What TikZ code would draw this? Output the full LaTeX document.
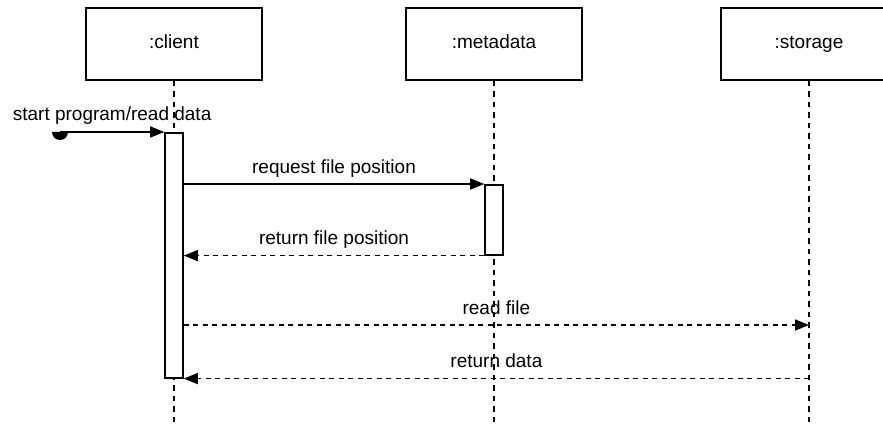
\documentclass[tikz,border=0pt]{standalone}
\usepackage{fontspec}
\setmainfont{Liberation Sans}
\usepackage{tikz}
\usetikzlibrary{arrows.meta, positioning, calc}
\definecolor{colLine}{RGB}{0,0,0}
\definecolor{colBox}{RGB}{255,255,255}
\tikzset{
  lifebox/.style={
    draw=colLine, rectangle, fill=colBox, line width=1.8pt,
    minimum width=176pt, minimum height=72pt,
    font=\fontsize{19}{23}\selectfont, inner sep=0pt,
    text height=13.5pt, text depth=3.5pt
  },
  actbar/.style={
    draw=colLine, rectangle, fill=colBox, line width=1.6pt,
    minimum width=18pt, inner sep=0pt, anchor=north
  },
  lifeline/.style={
    draw=colLine, line width=1.6pt, dash pattern=on 5.5pt off 5pt
  },
  msgarr/.style={
    draw=colLine, line width=1.6pt, -{Triangle[length=14pt, width=11pt]}
  },
  replyarr/.style={
    msgarr, dash pattern=on 5pt off 4.5pt
  },
  msglabel/.style={
    font=\fontsize{19}{23}\selectfont, anchor=base, yshift=11pt, midway, inner sep=0pt
  },
}

\begin{document}
\begin{tikzpicture}[x=1pt, y=-1pt]
\useasboundingbox (0,0) rectangle (883,425);

% ── Lifelines ──────────────────────────────────────────────────────────────
\node[lifebox] (client) at (174,44) {:client};
\node[lifebox] (meta)   at (494,44) {:metadata};
\node[lifebox] (store)  at (809,44) {:storage};

\coordinate (clientEnd) at (174,422);
\coordinate (metaEnd)   at (494,422);
\coordinate (storeEnd)  at (809,422);

\draw[lifeline] (client.south) -- (clientEnd);
\draw[lifeline] (meta.south)   -- (metaEnd);
\draw[lifeline] (store.south)  -- (storeEnd);

% ── Activation bars ────────────────────────────────────────────────────────
\node[actbar, minimum height=245pt] (clientAct) at (174,132) {};
\node[actbar, minimum height=70pt]  (metaAct)   at (494,184) {};

% ── Messages ───────────────────────────────────────────────────────────────
% found message into client
\coordinate (startPt) at (60,132);
\fill[colLine] (startPt) ++(-8,0) arc[start angle=180, end angle=0, radius=8] -- cycle;
\draw[msgarr] (startPt) -- node[msglabel]{start program/read data} (clientAct.north west);

% client → metadata
\draw[msgarr] (clientAct.east |- metaAct.north) -- node[msglabel]{request file position} (metaAct.north west);

% metadata → client
\draw[replyarr] (metaAct.south west) -- node[msglabel]{return file position} (clientAct.east |- metaAct.south);

% client → storage
\coordinate (readStore) at (809,325);
\draw[replyarr] (clientAct.east |- readStore) -- node[msglabel]{read file} (readStore);

% storage → client
\draw[replyarr] (store.south |- clientAct.south) -- node[msglabel]{return data} (clientAct.south east);

\end{tikzpicture}
\end{document}
